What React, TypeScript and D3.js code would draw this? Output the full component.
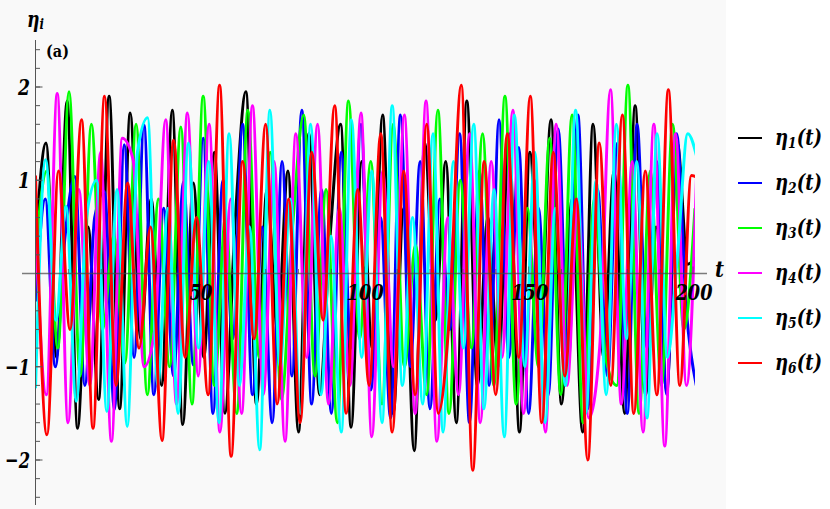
import React from "react";
import * as d3 from "d3";

// time step (in t units) between successive samples of each series
const steps = [3.2, 3.0, 3.4, 3.3, 3.1, 3.5];

const eta1 = [
  0.3, 1.4, -0.9, 1.85, -1.66, 0.5, -1.35, 1.9, -1.45, 1.72, -0.7, 0.8, -1.2, 1.75, -1.62, 0.97,
  -0.9, 1.3, -1.5, 0.6, 1.95, -1.4, 0.9, -0.6, 1.1, -1.7, 1.5, -1.3, 0.4, 1.6, -1.65, 1.2,
  -0.8, 1.7, -1.5, 0.7, -1.9, 1.4, -0.5, 1.2, -1.6, 1.85, -1.2, 0.6, -1.0, 1.5, -1.7, 1.3,
  -0.6, 1.65, -1.4, 0.8, -1.7, 1.6, -0.9, 1.1, -1.5, 1.8, -1.3, 0.5, -1.25, 1.4, 0.1, 0.2,
];
const eta2 = [
  -0.3, 0.8, -1.0, 0.4, 1.04, -1.2, 0.6, 0.88, -1.46, 1.38, -0.9, 1.59, -1.3, 0.7, -1.1, 0.98, -0.98,
  1.45, -1.5, 1.0, -0.7, 1.6, -1.3, 0.5, -1.6, 1.2, -1.1, 1.75, -1.4, 0.9, -1.5, 1.3, -0.8,
  1.6, -1.25, 0.6, -1.55, 1.7, -1.0, 1.2, -1.45, 0.8, -0.6, 1.5, -1.6, 1.1, -1.2, 1.65, -0.9,
  1.35, -1.5, 0.7, -1.3, 1.55, -1.0, 1.7, -1.45, 0.9, -1.1, 1.4, -1.5, 1.6, -0.8, 1.2, -1.3, 1.5, -0.4, -1.2,
];
const eta3 = [
  0.2, 1.1, -0.8, 1.95, -1.1, 1.6, -0.6, 0.4, -0.96, 1.6, -1.3, 0.8, -1.0, 1.57, -1.4, 1.9,
  -1.2, 0.6, -1.5, 1.75, -0.9, 1.3, -1.35, 0.5, 1.7, -1.1, 0.9, -1.6, 1.85, -0.7, 1.2, -1.4,
  1.6, -1.0, 0.3, -1.3, 1.75, -1.5, 1.0, -0.8, 1.5, -1.2, 1.9, -1.4, 0.7, -1.0, 1.45, -1.3,
  1.7, -1.6, 0.8, -0.9, -1.2, 2.02, -1.5, 1.1, -1.2, 1.6, -0.6, 0.7,
];
const eta4 = [
  0.5, -1.3, 1.93, -1.6, 0.9, -1.2, 1.3, -1.8, 1.45, 1.22, -1.0, -0.6, 1.65, -1.4, 1.72, -1.1,
  1.6, -1.7, 0.8, -1.5, 1.8, -1.3, 1.2, -1.8, 1.5, -0.9, 1.6, -1.4, 0.7, -1.2, 1.72, -1.75,
  1.1, -1.0, 1.7, -1.5, 1.85, -1.8, 0.6, -1.3, 1.5, -1.6, 1.2, -0.9, 1.75, -1.5, 1.0, -1.7,
  1.6, -1.2, 0.8, -1.55, -0.8, 1.97, -1.4, 1.2, -1.7, 1.6, -1.85, 1.5, -1.2, 1.3,
];
const eta5 = [
  -1.23, 1.22, -0.5, 0.72, -1.37, 0.6, 1.0, -1.48, 0.9, -1.64, 1.3, 1.67, -1.2, 0.7, -1.5, 1.4,
  -0.8, 1.2, -1.6, 1.5, -1.2, 0.5, -1.89, 1.75, -1.0, 0.8, -1.5, 1.6, -1.3, 0.4, -1.7, 1.65,
  -0.9, 1.1, -1.6, 1.8, -1.2, 0.6, -1.4, 1.5, -1.7, 1.2, -0.8, 1.6, -1.45, 0.9, -1.75, 1.7,
  -1.0, 1.3, -1.6, 0.7, -1.2, 1.75, -1.5, 1.0, -1.3, 1.6, -0.7, 1.2, -1.55, 1.5, -0.9, 0.2, 1.5, 1.2,
];
const eta6 = [
  1.05, -1.73, 1.1, -0.6, 1.65, -1.66, 1.9, -1.2, 0.97, -0.8, 0.5, -1.79, 1.43, -0.9, 0.6, -1.3, 2.02, -1.96,
  1.2, -0.7, 1.6, -1.4, 0.8, -1.6, 1.3, -0.5, 1.8, -1.5, 0.9, -1.2, 1.5, -1.7, 1.1, -1.3,
  1.6, -1.5, -0.4, 2.02, -2.11, 1.2, -1.3, 1.5, -0.9, 1.9, -1.6, 1.3, -1.1, 0.8, -2.0,
  1.4, -1.2, 1.7, -1.5, 1.1, -1.3, 1.97, -1.2, 1.05, 1.0,
];

const seriesData = [eta1, eta2, eta3, eta4, eta5, eta6];
const seriesColors = ["#000000", "#0000ff", "#00ff00", "#ff00ff", "#00ffff", "#ff0000"];
const legendIdx = ["1", "2", "3", "4", "5", "6"];

const xTicks = [50, 100, 150, 200];
const yTicks = [-2, -1, 1, 2];
const yTickLabels = ["\u22122", "\u22121", "1", "2"];

const W = 830;
const H = 509;
const SERIF = '"DejaVu Serif Condensed", "DejaVu Serif", serif';
const TXT: React.CSSProperties = {
  fontFamily: SERIF,
  fontWeight: 700,
  fontStyle: "italic",
  fontStretch: "condensed",
};

export default function App() {
  const x = d3.scaleLinear().domain([0, 200]).range([35.5, 693]);
  const y = d3.scaleLinear().domain([-2, 2]).range([460, 87]);

  const minorY = d3.range(-24, 25, 2).map((v) => v / 10);
  const minorX = d3.range(10, 201, 10);

  const line = (step: number) =>
    d3
      .line<number>()
      .x((_, i) => x(i * step))
      .y((d) => y(d))
      .curve(d3.curveMonotoneX);

  const legendY = d3.scaleLinear().domain([0, 5]).range([138, 363]);

  return (
    <svg
      width={W}
      height={H}
      style={{ position: "absolute", left: 0, top: 0, display: "block" }}
    >
      <rect x={0} y={0} width={W} height={H} fill="#ffffff" />
      <rect x={0} y={0} width={726} height={H} fill="#f9f9f9" />
      <defs>
        <clipPath id="plotclip">
          <rect x={x(0)} y={0} width={x(200.6) - x(0)} height={H} />
        </clipPath>
      </defs>

      {/* series */}
      <g clipPath="url(#plotclip)">
        {seriesData.map((s, k) => (
          <path
            key={k}
            d={line(steps[k])(s) || ""}
            fill="none"
            stroke={seriesColors[k]}
            strokeWidth={3}
            strokeLinejoin="round"
          />
        ))}
      </g>

      {/* y axis */}
      <line x1={x(0)} x2={x(0)} y1={40} y2={505} stroke="#555" strokeWidth={1} />
      {minorY.map((v) => (
        <line key={"my" + v} x1={x(0)} x2={x(0) + 4.5} y1={y(v)} y2={y(v)} stroke="#555" strokeWidth={1} />
      ))}
      {yTicks.map((v) => (
        <line key={"My" + v} x1={x(0)} x2={x(0) + 7} y1={y(v)} y2={y(v)} stroke="#555" strokeWidth={1} />
      ))}
      {yTicks.map((v, i) => (
        <text
          key={"ty" + v}
          x={30}
          y={y(v) + 8}
          textAnchor="end"
          fontSize={23}
          style={TXT}
          textLength={v < 0 ? 25 : 12}
          lengthAdjust="spacingAndGlyphs"
        >
          {yTickLabels[i]}
        </text>
      ))}

      {/* x axis */}
      <line x1={22} x2={707} y1={y(0)} y2={y(0)} stroke="rgba(70,70,70,0.7)" strokeWidth={1.5} />
      {minorX.map((v) => (
        <line
          key={"mx" + v}
          x1={x(v)}
          x2={x(v)}
          y1={y(0)}
          y2={y(0) - (v % 50 === 0 ? 7 : 4.5)}
          stroke="rgba(70,70,70,0.7)"
          strokeWidth={1}
        />
      ))}
      {xTicks.map((v) => (
        <text
          key={"tx" + v}
          x={x(v) + 1}
          y={300}
          textAnchor="middle"
          fontSize={23}
          style={TXT}
          textLength={v < 100 ? 23 : 37}
          lengthAdjust="spacingAndGlyphs"
        >
          {v}
        </text>
      ))}
      <text x={715} y={277} fontSize={23} style={TXT} textLength={9} lengthAdjust="spacingAndGlyphs">
        t
      </text>

      {/* axis label */}
      <text x={27} y={27} fontSize={22} style={TXT} textLength={17} lengthAdjust="spacingAndGlyphs">
        η<tspan fontSize={15} dy={2}>i</tspan>
      </text>
      <text
        x={46}
        y={57}
        fontSize={17}
        style={{ fontFamily: SERIF, fontWeight: 700, fontStretch: "condensed" }}
        textLength={23}
        lengthAdjust="spacingAndGlyphs"
      >
        (a)
      </text>

      {/* legend */}
      {seriesColors.map((c, k) => (
        <g key={"lg" + k}>
          <line x1={738} x2={762} y1={legendY(k)} y2={legendY(k)} stroke={c} strokeWidth={2} />
          <text
            x={775}
            y={legendY(k) + 7}
            fontSize={22}
            style={TXT}
            textLength={47}
            lengthAdjust="spacingAndGlyphs"
          >
            η<tspan fontSize={15} dy={3}>{legendIdx[k]}</tspan>
            <tspan dy={-3}>(t)</tspan>
          </text>
        </g>
      ))}
    </svg>
  );
}
